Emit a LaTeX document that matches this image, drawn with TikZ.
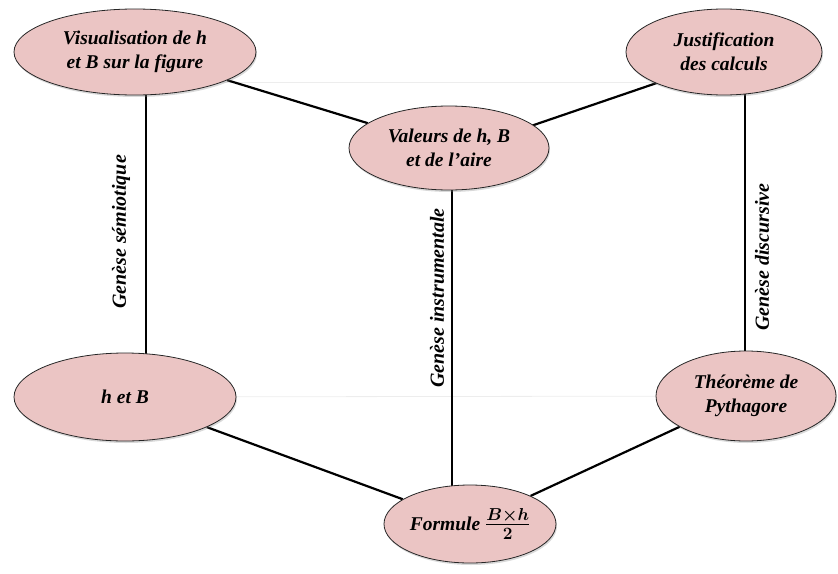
\documentclass[tikz,border=0pt]{standalone}
\usepackage{fontspec}
\setmainfont{Liberation Serif}
\usetikzlibrary{shapes.geometric,backgrounds,shadows}
\definecolor{pinkfill}{RGB}{235,197,196}
\begin{document}
\begin{tikzpicture}[x=1pt,y=-1pt,
  ell/.style={ellipse, draw=black!85, line width=0.8pt, fill=pinkfill,
    inner sep=0pt, align=center,
    font=\fontsize{19.5}{24}\selectfont\bfseries\itshape,
    drop shadow={opacity=0.3, shadow xshift=1pt, shadow yshift=-2pt}},
  link/.style={line width=2.2pt, black},
  faint/.style={line width=0.8pt, black!7},
  lab/.style={rotate=90, inner sep=0pt, font=\fontsize{20}{24}\selectfont\bfseries\itshape}]
\useasboundingbox (0,0) rectangle (838,573);
\node[ell, minimum width=242pt, minimum height=86pt] (vis) at (135,52) {Visualisation de h\\et B sur la figure};
\node[ell, minimum width=200pt, minimum height=84pt] (val) at (449,148) {Valeurs de h, B\\et de l’aire};
\node[ell, minimum width=196pt, minimum height=86pt] (jus) at (724,52) {Justification\\des calculs};
\node[ell, minimum width=222pt, minimum height=88pt] (hb) at (125,397) {h et B};
\node[ell, minimum width=180pt, minimum height=90pt] (the) at (746,396) {Théorème de\\Pythagore};
\node[ell, minimum width=172pt, minimum height=78pt] (for) at (470,524) {Formule {\fontsize{24}{26}\selectfont\boldmath$\frac{B\times h}{2}$}};
\coordinate (lx1) at (146,0);
\coordinate (lx2) at (452,0);
\coordinate (lx3) at (745,0);
\node[lab] (ls) at (121,232) {Genèse sémiotique};
\node[lab] (li) at (437,298) {Genèse instrumentale};
\node[lab] (ld) at (762,257) {Genèse discursive};
\begin{scope}[on background layer]
  \draw[faint] ([yshift=-30pt]vis.center) -- ([yshift=-30pt]jus.center);
  \draw[faint] (hb) -- (the);
  \draw[link] (vis.center -| lx1) -- (hb.center -| lx1);
  \draw[link] (val.center -| lx2) -- (for.center -| lx2);
  \draw[link] (jus.center -| lx3) -- (the.center -| lx3);
  \draw[link] (vis) -- (val);
  \draw[link] ([yshift=-6pt]val.center) -- ([yshift=-8pt]jus.center);
  \draw[link] (hb) -- (for);
  \draw[link] (the) -- (for);
\end{scope}
\end{tikzpicture}
\end{document}
